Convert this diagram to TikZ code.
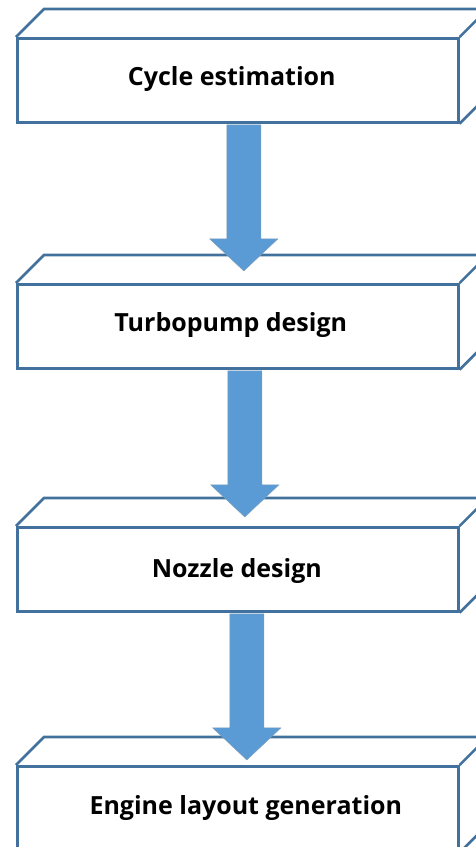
\documentclass[tikz,border=0pt]{standalone}
\usepackage{fontspec}
\setmainfont{Open Sans}
\usetikzlibrary{calc}
\definecolor{edgeblue}{HTML}{41719C}
\definecolor{arrowblue}{HTML}{5B9BD5}
\begin{document}
\begin{tikzpicture}[x=1pt,y=1pt,
  frontface/.style={draw=edgeblue, line width=2.6pt, fill=white, minimum width=441pt, minimum height=84pt, anchor=north west, inner sep=0pt},
  sideline/.style={draw=edgeblue, line width=2.6pt, line join=miter},
  boxlabel/.style={font=\bfseries\fontsize{25}{28}\selectfont, text=black},
  flowarrow/.style={fill=arrowblue, draw=edgeblue!70, line width=0.5pt}
]
\useasboundingbox (0,0) rectangle (476,-847);
\clip (0,0) rectangle (476,-847);
% front faces
\node[frontface] (b1) at (16,-37) {};
\node[frontface] (b2) at (16,-283) {};
\node[frontface] (b3) at (16,-526) {};
\node[frontface, minimum height=85pt] (b4) at (16,-765) {};
% top and right faces
\foreach \b in {b1,b2,b3,b4}{
  \draw[sideline] (\b.north west) -- ++(28,28) -- ($(\b.north east)+(28,28)$) -- (\b.north east);
  \draw[sideline] ($(\b.north east)+(28,28)$) -- ($(\b.south east)+(28,28)$) -- (\b.south east);
}
% labels
\node[boxlabel] (t1) at ($(b1.center)+(-6,1)$) {Cycle estimation};
\node[boxlabel] (t2) at ($(b2.center)+(-7,1)$) {Turbopump design};
\node[boxlabel] (t3) at ($(b3.center)+(-1,-1.5)$) {Nozzle design};
\node[boxlabel] (t4) at ($(b4.center)+(8,1)$) {Engine layout generation};
% arrows
\foreach \b/\dx in {b1/6, b2/7, b3/9}{
  \coordinate (s) at ($(\b.south)+(\dx,-1.3)$);
  \fill[flowarrow] ($(s)+(-17,0)$) -- ($(s)+(17,0)$) -- ($(s)+(17,-114)$) -- ($(s)+(34,-114)$)
     -- ($(s)+(0,-146)$) -- ($(s)+(-34,-114)$) -- ($(s)+(-17,-114)$) -- cycle;
}
\end{tikzpicture}
\end{document}
